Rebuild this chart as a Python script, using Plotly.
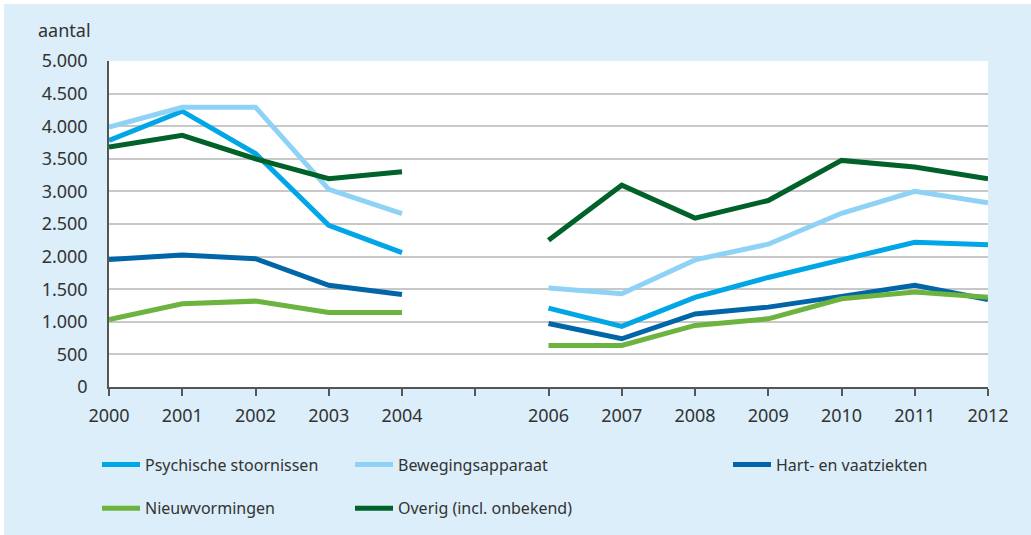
import plotly.graph_objects as go

years = [2000, 2001, 2002, 2003, 2004, 2005, 2006, 2007, 2008, 2009, 2010, 2011, 2012]
tick_labels = ["2000", "2001", "2002", "2003", "2004", "", "2006", "2007", "2008", "2009", "2010", "2011", "2012"]

psychische = [3780, 4230, 3580, 2480, 2060, None, 1210, 930, 1375, 1680, 1950, 2220, 2180]
beweging = [3985, 4290, 4290, 3030, 2660, None, 1520, 1430, 1950, 2190, 2665, 3000, 2825]
hart = [1957, 2023, 1967, 1560, 1420, None, 975, 740, 1120, 1225, 1390, 1560, 1340]
nieuw = [1036, 1277, 1317, 1143, 1143, None, 637, 637, 944, 1046, 1353, 1455, 1378]
overig = [3680, 3860, 3500, 3195, 3300, None, 2250, 3095, 2590, 2860, 3475, 3375, 3195]

series = [
    ("Psychische stoornissen", psychische, "#00a6e6", "legend"),
    ("Bewegingsapparaat", beweging, "#8ed3f6", "legend2"),
    ("Hart- en vaatziekten", hart, "#0066a8", "legend3"),
    ("Nieuwvormingen", nieuw, "#6cb33f", "legend"),
    ("Overig (incl. onbekend)", overig, "#006129", "legend2"),
]

BG = "#dbeef9"
TXT = "#333333"
FONT = "Noto Sans"

W, H = 1031, 535
L, R, T, B = 109, 43, 61, 148
pw, ph = W - L - R, H - T - B

def px_x(p):
    return (p - L) / pw

def px_y(p):
    return (H - B - p) / ph

def cx(p):
    return p / W

def cy(p):
    return 1 - p / H

fig = go.Figure()
for i, (name, vals, col, lg) in enumerate(series):
    fig.add_trace(go.Scatter(
        x=years, y=vals, name=name, mode="lines",
        line=dict(color=col, width=5), connectgaps=False,
        legend=lg, legendgroup=name,
    ))

legend_common = dict(
    font=dict(family=FONT, size=16, color=TXT),
    bgcolor="rgba(0,0,0,0)", orientation="v",
    tracegroupgap=20, xanchor="left", yanchor="top",
    itemwidth=38, traceorder="grouped",
    xref="container", yref="container",
)

fig.update_layout(
    width=W, height=H,
    margin=dict(l=L, r=R, t=T, b=B, autoexpand=False),
    paper_bgcolor=BG, plot_bgcolor="white",
    separators=",.",
    font=dict(family=FONT, size=16, color=TXT),
    showlegend=True,
    legend=dict(x=cx(97), y=cy(447.5), **legend_common),
    legend2=dict(x=cx(350), y=cy(447.5), **legend_common),
    legend3=dict(x=cx(728), y=cy(447.5), **legend_common),
    xaxis=dict(
        range=[2000, 2012], tickmode="array", tickvals=years, ticktext=tick_labels,
        showgrid=False, zeroline=False, showline=True, linecolor="#555555", linewidth=1.5,
        ticks="outside", ticklen=7, tickcolor="#555555", tickwidth=1.5,
        ticklabelstandoff=5,
        tickfont=dict(family=FONT, size=18, color=TXT),
    ),
    yaxis=dict(
        range=[0, 5000], dtick=500, tickformat=",d",
        showgrid=True, gridcolor="#c8c8c8", gridwidth=1.5, zeroline=False,
        showline=True, linecolor="#555555", linewidth=1.5,
        ticks="", ticklabelstandoff=16,
        tickfont=dict(family=FONT, size=18, color=TXT),
    ),
    annotations=[dict(
        text="aantal", xref="paper", yref="paper", x=px_x(36), y=px_y(30),
        xanchor="left", yanchor="middle", showarrow=False,
        font=dict(family=FONT, size=18, color=TXT),
    )],
    shapes=[
        dict(type="rect", xref="paper", yref="paper", x0=px_x(0), x1=px_x(W), y0=px_y(0), y1=px_y(4),
             fillcolor="white", line=dict(width=0), layer="above"),
        dict(type="rect", xref="paper", yref="paper", x0=px_x(0), x1=px_x(4), y0=px_y(0), y1=px_y(H),
             fillcolor="white", line=dict(width=0), layer="above"),
    ],
)

fig.write_html(
    "out.html",
    config={"displayModeBar": False},
    post_script="document.body.style.margin='0';document.body.style.overflow='hidden';",
)
